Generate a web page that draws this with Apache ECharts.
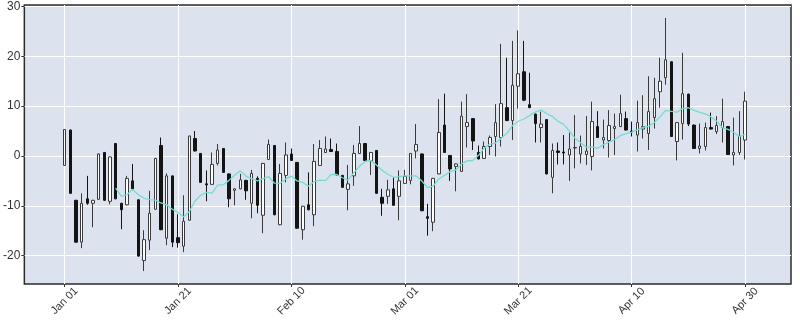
<!DOCTYPE html>
<html>
<head>
<meta charset="utf-8">
<script src="https://cdn.jsdelivr.net/npm/echarts@6/dist/echarts.min.js"></script>
<style>
  html, body { margin: 0; padding: 0; background: #fff; }
  #report_box { width: 800px; height: 324px; }
</style>
</head>
<body>
<div id="report_box"></div>
<script>
// daily candles, Jan 01 .. Apr 30 (index 0..120)
var opens = [-1.9, 5.2, -8.9, -17.3, -8.6, -9.5, -8.7, 0.7, -9.1, 2.5,
    -9.5, -9.8, -5.0, -8.8, -21.0, -16.9, -10.7, 2.1, -16.5, -4.0,
    -16.4, -18.1, -12.9, 3.5, 0.5, -5.6, -5.7, -1.5, 1.5, -3.6,
    -6.9, -6.6, -4.9, -9.5, -4.5, -11.9, -0.7, 2.1, -13.8, -3.9,
    0.4, -1.3, -14.8, -9.8, -11.8, -1.9, 0.7, 1.3, 0.9, -3.9,
    -6.7, -4.0, 0.5, 2.5, -1.0, 1.1, -8.3, -8.1, -6.6, -8.1,
    -5.5, -4.9, 1.0, 0.4, -12.2, -13.3, -3.6, 6.2, 0.1, -2.1,
    -3.1, 5.9, 7.5, 0.7, -0.5, 1.9, 3.9, 3.7, 9.7, 7.1,
    14.0, 16.9, 10.3, 8.4, 5.7, 7.3, -4.3, 1.0, 0.8, 0.2,
    1.6, 0.4, 0.3, -0.1, 5.9, 3.2, 3.1, 5.5, 5.9, 7.5,
    5.0, 4.2, 5.4, 4.5, 7.7, 12.9, 15.7, 18.9, 2.9, 6.5,
    12.4, 6.2, 1.5, 1.9, 5.7, 4.9, 5.7, 5.9, 0.2, 0.7, 3.2];
var closes = [5.3, -7.5, -17.3, -9.5, -9.5, -8.9, 0.4, -8.9, -0.2, -8.6,
    -10.8, -4.5, -6.6, -20.1, -16.8, -11.5, -0.5, -14.8, -4.0, -17.3,
    -17.4, -13.1, 4.0, 1.0, -5.3, -5.8, -1.7, 1.2, -3.3, -8.6,
    -6.6, -4.8, -7.0, -3.5, -9.9, -1.5, 2.3, -11.8, -3.5, 0.2,
    -0.9, -14.5, -10.1, -10.8, -1.1, 1.5, 1.4, 0.9, -3.8, -6.3,
    -5.6, 0.5, 2.5, -0.9, 0.7, -7.5, -9.5, -6.8, -9.9, -5.0,
    -4.1, 0.5, 2.3, -11.0, -12.5, -4.5, 4.7, 0.7, -2.6, -1.6,
    8.0, 6.7, 3.0, -0.6, 1.9, 3.7, 6.7, 10.5, 7.1, 14.2,
    16.5, 11.2, 9.7, 6.5, 6.4, -3.6, 1.1, 0.7, 0.6, 1.4,
    1.7, 1.9, 1.0, 6.9, 3.7, 3.7, 6.1, 5.9, 8.5, 5.2,
    4.8, 6.7, 5.9, 8.9, 11.5, 15.0, 19.3, 3.9, 6.7, 12.5,
    6.4, 1.5, 2.0, 5.7, 5.4, 6.1, 6.9, 0.3, 0.7, 4.0, 11.0];
var lows = [-2.0, -7.6, -17.4, -18.5, -9.8, -14.3, -8.8, -9.0, -9.7, -8.7,
    -14.7, -9.9, -6.7, -20.2, -23.1, -18.9, -10.8, -14.9, -17.9, -18.3,
    -18.4, -19.3, -13.0, 0.9, -5.4, -9.1, -5.8, -1.9, -3.4, -10.3,
    -9.9, -6.7, -8.8, -12.5, -11.5, -15.5, -0.8, -11.9, -13.9, -5.3,
    -1.0, -14.6, -16.8, -10.9, -14.1, -2.0, 0.6, 0.8, -3.9, -6.4,
    -10.9, -6.0, 0.4, -1.0, -3.8, -7.6, -12.0, -9.6, -10.0, -12.9,
    -5.6, -5.7, -0.5, -11.1, -16.0, -15.1, -3.7, 0.6, -5.0, -7.1,
    -3.2, 1.7, 1.2, -0.7, -0.6, 0.2, -0.1, 1.9, 7.0, 3.2,
    9.5, 11.0, 9.6, 2.7, 2.7, -3.7, -7.5, -1.7, -1.7, -5.0,
    -2.5, -1.5, -1.8, -2.9, 3.6, 1.5, -0.3, 0.2, 5.8, 5.1,
    3.9, 0.9, 3.5, 1.2, 5.5, 9.7, 14.3, 3.8, -0.9, 3.3,
    6.0, 1.4, 0.5, 1.1, 5.3, 4.4, 2.7, 0.2, -1.9, 0.2, -0.7];
var highs = [5.4, 5.3, -8.8, -7.5, -4.0, -8.8, 0.5, 0.8, -0.1, 2.6,
    -9.4, -4.0, -1.6, -8.7, -14.9, -7.0, -0.4, 3.7, -3.5, -3.9,
    -11.7, -7.9, 4.1, 5.0, 0.6, -2.9, 0.7, 2.4, 1.6, -3.5,
    -6.5, -3.6, -4.8, -2.8, -4.1, -1.4, 3.3, 2.2, -1.6, 2.7,
    1.5, -1.2, -10.0, -3.3, 2.4, 3.2, 3.9, 3.5, 2.5, -3.8,
    -1.8, 2.2, 6.0, 2.6, 0.8, 1.2, -6.6, -4.8, -4.3, -2.9,
    -2.8, 0.6, 6.4, 0.5, -9.6, -4.4, 11.4, 12.5, 0.2, -1.5,
    10.9, 12.4, 7.6, 2.1, 2.9, 4.1, 10.4, 22.5, 19.7, 23.1,
    25.2, 23.1, 16.7, 8.5, 8.9, 7.4, 2.5, 2.7, 4.2, 4.7,
    8.2, 4.1, 8.0, 10.9, 9.0, 7.3, 9.2, 8.5, 12.3, 8.9,
    6.9, 11.1, 12.2, 16.0, 15.7, 19.7, 27.7, 19.0, 6.8, 20.7,
    12.5, 6.3, 6.5, 6.7, 8.7, 8.0, 11.5, 6.0, 7.7, 9.0, 12.9];

var yTicks = [-20, -10, 0, 10, 20, 30];
var xTicks = [0, 20, 40, 60, 80, 100, 120];
var xTickLabels = ['Jan 01', 'Jan 21', 'Feb 10', 'Mar 01', 'Mar 21', 'Apr 10', 'Apr 30'];
var mavWindow = 10;

function init() {
    var candles = [];
    var mav = [];
    for (var i = 0; i < opens.length; i++) {
        candles.push([i, opens[i], closes[i], lows[i], highs[i]]);
        if (i >= mavWindow - 1) {
            var s = 0;
            for (var k = i - mavWindow + 1; k <= i; k++) s += closes[k];
            mav.push([i, s / mavWindow]);
        }
    }
    var myChart = echarts.init(document.getElementById('report_box'));
    var option = {
        animation: false,
        backgroundColor: '#fff',
        grid: {
            left: 23, right: 9, top: 5, bottom: 40,
            show: true,
            backgroundColor: '#dde3ee',
            borderColor: '#2b2b2b',
            borderWidth: 1.5
        },
        xAxis: {
            type: 'value',
            min: -7.1,
            max: 128.1,
            axisLine: { show: false, onZero: false },
            axisTick: { show: true, customValues: xTicks, length: 3, lineStyle: { color: '#333' } },
            axisLabel: {
                customValues: xTicks,
                rotate: 45,
                align: 'center',
                verticalAlign: 'middle',
                color: '#333',
                fontFamily: 'Liberation Sans',
                fontSize: 11,
                margin: 17,
                formatter: function (v) {
                    var p = xTicks.indexOf(Math.round(v));
                    return p >= 0 ? xTickLabels[p] : '';
                }
            },
            splitLine: { show: true, lineStyle: { color: '#ffffff', width: 1 } }
        },
        yAxis: {
            type: 'value',
            min: -25.7,
            max: 30.3,
            axisLine: { show: false, onZero: false },
            axisTick: { show: true, customValues: yTicks, length: 3, lineStyle: { color: '#333' } },
            axisLabel: {
                customValues: yTicks,
                color: '#333',
                fontFamily: 'Liberation Sans',
                fontSize: 12,
                margin: 4
            },
            splitLine: { show: true, lineStyle: { color: '#ffffff', width: 1 } }
        },
        series: [
            {
                type: 'candlestick',
                data: candles,
                encode: { x: 0, y: [1, 2, 3, 4] },
                barWidth: 3,
                itemStyle: {
                    color: '#ffffff',
                    color0: '#141414',
                    borderColor: '#3a3a3a',
                    borderColor0: '#141414',
                    borderWidth: 1
                }
            },
            {
                type: 'line',
                data: mav,
                showSymbol: false,
                smooth: false,
                lineStyle: { color: '#76dcd0', width: 1.3 }
            }
        ]
    };
    myChart.setOption(option);
}

init();
</script>
</body>
</html>
